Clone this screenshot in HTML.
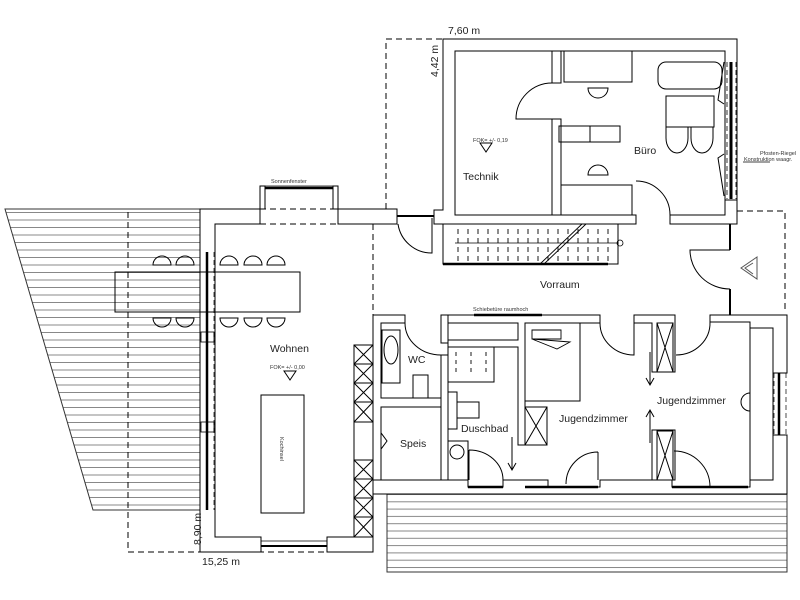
<!DOCTYPE html>
<html><head><meta charset="utf-8"><style>
html,body{margin:0;padding:0;background:#fff;}
svg{display:block;font-family:"Liberation Sans",sans-serif;}
</style></head><body>
<svg width="800" height="600" viewBox="0 0 800 600" xmlns="http://www.w3.org/2000/svg">
<defs>
<pattern id="deck" width="10" height="7.5" patternUnits="userSpaceOnUse" y="2">
<line x1="0" y1="0.5" x2="10" y2="0.5" stroke="#888" stroke-width="1"/>
</pattern>
<pattern id="deck2" width="10" height="7.3" patternUnits="userSpaceOnUse" y="494">
<line x1="0" y1="0.5" x2="10" y2="0.5" stroke="#888" stroke-width="1"/>
</pattern>
</defs>
<g fill="none" stroke="#000" stroke-width="1">
<polygon points="5,209 200,209 200,510 93,510" fill="url(#deck)" stroke="#333"/>
<rect x="387" y="494" width="400" height="78" fill="url(#deck2)" stroke="#333"/>
<g stroke-dasharray="6,4">
<polyline points="128,212 128,552 327,552"/>
<polyline points="386,209 386,39 443,39"/>
<line x1="373" y1="224" x2="373" y2="315"/>
<polyline points="737,211 785,211 785,312"/>
</g>
<path d="M434,224 L434,210 L443,210 L443,39 L737,39 L737,200 L725,200 L725,51 L455,51 L455,215 L636,215 L636,224 Z" fill="#fff"/>
<path d="M670,215 L725,215 L725,200 L737,200 L737,224 L670,224 Z" fill="#fff"/>
<path d="M552,51 L561,51 L561,83 L552,83 Z" fill="#fff"/>
<path d="M552,119 L561,119 L561,215 L552,215 Z" fill="#fff"/>
<line x1="731" y1="62" x2="731" y2="199" stroke-width="3"/>
<line x1="727" y1="62" x2="727" y2="199" stroke-dasharray="5,3" stroke-width="0.8"/>
<line x1="736" y1="62" x2="736" y2="199" stroke-dasharray="5,3" stroke-width="0.8"/>
<path d="M552,83 A36,36 0 0 0 516,119 L552,119"/>
<path d="M636,181 A34,34 0 0 1 670,215"/>
<rect x="564" y="51" width="68" height="31"/>
<path d="M588,88 A10,10 0 0 0 608,88 Z"/>
<rect x="559" y="126" width="31" height="16"/><rect x="590" y="126" width="30" height="16"/>
<path d="M588,175 A10,10 0 0 1 608,175 Z"/>
<rect x="561" y="185" width="71" height="30"/>
<rect x="658" y="62" width="64" height="27" rx="8"/>
<rect x="666" y="96" width="48" height="31"/>
<path d="M666,127 L688,127 L688,138 A11,15 0 0 1 666,138 Z"/>
<path d="M691,127 L713,127 L713,138 A11,15 0 0 1 691,138 Z"/>
<path d="M724,62 L718,100 L724,104"/>
<path d="M724,154 L718,158 L724,196"/>
<path d="M200,209 L260,209 L260,224 L215,224 L215,537 L261,537 L261,552 L200,552 Z" fill="#fff"/>
<path d="M338,209 L397,209 L397,224 L338,224 Z" fill="#fff"/>
<path d="M327,537 L354,537 L354,345 L373,345 L373,552 L327,552 Z" fill="#fff"/>
<line x1="260" y1="209" x2="338" y2="209" stroke-dasharray="6,4"/>
<line x1="260" y1="224" x2="338" y2="224" stroke-dasharray="6,4"/>
<rect x="260" y="186" width="5" height="23"/><rect x="333" y="186" width="5" height="23"/>
<line x1="265" y1="188" x2="333" y2="188" stroke-width="2.5"/>
<line x1="265" y1="186" x2="333" y2="186" stroke-width="0.8"/>
<line x1="397" y1="216" x2="434" y2="216" stroke-width="2"/>
<path d="M432,218 L432,253 A34,34 0 0 1 398,224"/>
<line x1="261" y1="546" x2="327" y2="546" stroke-width="2"/>
<line x1="261" y1="541" x2="327" y2="541" stroke-width="0.7"/>
<line x1="207" y1="252" x2="207" y2="510" stroke-width="2.5"/>
<line x1="214" y1="252" x2="214" y2="510" stroke-dasharray="5,3" stroke-width="0.7"/>
<rect x="201" y="332" width="13" height="10" stroke-width="0.8"/>
<rect x="201" y="422" width="13" height="10" stroke-width="0.8"/>
<rect x="115" y="272" width="185" height="40" fill="none"/>
<g>
<path d="M153,265 A9,9 0 0 1 171,265 Z"/><path d="M176,265 A9,9 0 0 1 194,265 Z"/>
<path d="M220,265 A9,9 0 0 1 238,265 Z"/><path d="M244,265 A9,9 0 0 1 262,265 Z"/><path d="M267,265 A9,9 0 0 1 285,265 Z"/>
<path d="M153,318 A9,9 0 0 0 171,318 Z"/><path d="M176,318 A9,9 0 0 0 194,318 Z"/>
<path d="M220,318 A9,9 0 0 0 238,318 Z"/><path d="M244,318 A9,9 0 0 0 262,318 Z"/><path d="M267,318 A9,9 0 0 0 285,318 Z"/>
</g>
<rect x="261" y="395" width="43" height="118"/>
<path d="M284,371 L296,371 L290,380 Z"/>
<g stroke-width="1">
<rect x="354" y="345" width="19" height="77"/>
<path d="M354,345 L373,364 M373,345 L354,364 M354,364 L373,383 M373,364 L354,383 M354,383 L373,402 M373,383 L354,402 M354,402 L373,422 M373,402 L354,422 M354,364 L373,364 M354,383 L373,383 M354,402 L373,402"/>
<rect x="354" y="460" width="19" height="77"/>
<path d="M354,460 L373,479 M373,460 L354,479 M354,479 L373,498 M373,479 L354,498 M354,498 L373,517 M373,498 L354,517 M354,517 L373,537 M373,517 L354,537 M354,479 L373,479 M354,498 L373,498 M354,517 L373,517"/>
</g>
<path d="M373,422 L381,422 M373,460 L381,460 M373,422 L387,441 L373,460"/>
<rect x="443" y="224" width="175" height="40" fill="#fff" stroke-width="1"/>
<line x1="443" y1="264" x2="608" y2="264" stroke-width="2.5"/>
<line x1="455" y1="243" x2="618" y2="243" stroke-width="0.8"/>
<g stroke-width="0.9">
<path d="M458,229v5M468,229v5M478,229v5M488,229v5M498,229v5M508,229v5M518,229v5M528,229v5M538,229v5M548,229v5M558,229v5M568,229v5M578,229v5M588,229v5M598,229v5M608,229v5"/>
<path d="M458,238v5M468,238v5M478,238v5M488,238v5M498,238v5M508,238v5M518,238v5M528,238v5M538,238v5M548,238v5M558,238v5M568,238v5M578,238v5M588,238v5M598,238v5M608,238v5"/>
<path d="M458,247v5M468,247v5M478,247v5M488,247v5M498,247v5M508,247v5M518,247v5M528,247v5M538,247v5M548,247v5M558,247v5M568,247v5M578,247v5M588,247v5M598,247v5M608,247v5"/>
<path d="M458,256v5M468,256v5M478,256v5M488,256v5M498,256v5M508,256v5M518,256v5M528,256v5M538,256v5M548,256v5M558,256v5M568,256v5M578,256v5M588,256v5M598,256v5M608,256v5"/>
<line x1="540" y1="264" x2="582" y2="224"/><line x1="544" y1="264" x2="586" y2="224"/>
</g>
<circle cx="620" cy="243" r="3" stroke-width="0.8"/>
<line x1="730" y1="224" x2="730" y2="250" stroke-width="2"/>
<line x1="730" y1="289" x2="730" y2="315" stroke-width="2"/>
<path d="M730,250 L690,250 A40,39 0 0 0 730,289" stroke-width="1"/>
<path d="M757,257 L741,268 L757,279 Z M753,263 L745,268 L753,274" stroke="#555"/>
<path d="M373,315 L405,315 L405,323 L381,323 L381,398 L441,398 L441,407 L381,407 L381,480 L373,480 Z" fill="#fff"/>
<path d="M441,315 L448,315 L448,343 L441,343 Z" fill="#fff"/>
<path d="M441,355 L448,355 L448,480 L441,480 Z" fill="#fff"/>
<path d="M448,315 L600,315 L600,323 L525,323 L525,445 L518,445 L518,347 L448,347 L448,340 L518,340 L518,323 L448,323 Z" fill="#fff"/>
<path d="M634,315 L675,315 L675,372 L652,372 L652,323 L634,323 Z" fill="#fff"/>
<path d="M710,315 L787,315 L787,373 L773,373 L773,328 L750,328 L750,322 L710,322 Z" fill="#fff"/>
<path d="M773,435 L787,435 L787,494 L373,494 L373,480 L468,480 L468,487 L503,487 L503,480 L548,480 L548,487 L600,487 L600,480 L672,480 L672,487 L750,487 L750,480 L773,480 Z" fill="#fff"/>
<path d="M652,430 L675,430 L675,480 L652,480 Z" fill="#fff"/>
<rect x="750" y="328" width="23" height="152"/>
<line x1="468" y1="487" x2="503" y2="487" stroke-width="2.5"/>
<line x1="525" y1="487" x2="598" y2="487" stroke-width="2.5"/>
<line x1="672" y1="487" x2="748" y2="487" stroke-width="2.5"/>
<line x1="779" y1="373" x2="779" y2="435" stroke-width="2.5"/>
<line x1="774" y1="373" x2="774" y2="435" stroke-dasharray="5,3" stroke-width="0.7"/>
<line x1="786" y1="373" x2="786" y2="435" stroke-dasharray="5,3" stroke-width="0.7"/>
<path d="M405,323 A36,32 0 0 0 441,355" stroke-width="1"/>
<path d="M469,450 L469,480 M469,450 A34,30 0 0 1 503,480" stroke-width="1"/>
<path d="M598,452 L598,480 M598,452 A32,32 0 0 0 566,484" stroke-width="1"/>
<path d="M600,323 A34,32 0 0 0 634,355 L634,323" stroke-width="1"/>
<path d="M710,322 A34,32 0 0 1 676,355" stroke-width="1"/>
<path d="M674,451 A36,36 0 0 1 710,487" stroke-width="1"/>
<line x1="474" y1="315" x2="542" y2="315" stroke-width="2.5"/>
<rect x="382" y="330" width="18" height="53"/>
<ellipse cx="391" cy="350" rx="7" ry="14"/>
<rect x="413" y="375" width="15" height="23"/>
<rect x="448" y="347" width="46" height="35"/>
<path d="M456,352v4M456,360v4M456,368v4M471,352v4M471,360v4M471,368v4M486,352v4M486,360v4M486,368v4" stroke-width="0.9"/>
<rect x="448" y="392" width="9" height="37"/><rect x="457" y="402" width="22" height="16"/>
<rect x="448" y="441" width="20" height="39"/><circle cx="457" cy="452" r="7"/>
<path d="M512,437 L512,470 M508,463 L512,470 L516,463" stroke-width="1"/>
<rect x="525" y="323" width="55" height="78"/>
<path d="M532,330 L561,330 L561,339 L532,339 Z M532,339 L570,342 L557,349 Z" stroke-width="0.9"/>
<rect x="525" y="407" width="22" height="38"/><path d="M525,407 L547,445 M547,407 L525,445"/>
<rect x="657" y="323" width="16" height="49"/><path d="M657,323 L673,372 M673,323 L657,372"/>
<rect x="657" y="431" width="16" height="49"/><path d="M657,431 L673,480 M673,431 L657,480"/>
<path d="M650,352 L650,385 M646,378 L650,385 L654,378" stroke-width="1"/>
<path d="M650,443 L650,410 M646,417 L650,410 L654,417" stroke-width="1"/>
<path d="M750,393 A9,9 0 0 0 750,411 Z"/>
<line x1="743" y1="162" x2="770" y2="162" stroke-width="0.8"/>
<path d="M480,143 L492,143 L486,152 Z"/>
</g>
<g font-size="10.5" fill="#222">
<text x="463" y="180">Technik</text>
<text x="634" y="154">Büro</text>
<text x="270" y="352">Wohnen</text>
<text x="540" y="288">Vorraum</text>
<text x="408" y="363">WC</text>
<text x="400" y="447">Speis</text>
<text x="461" y="432">Duschbad</text>
<text x="559" y="422">Jugendzimmer</text>
<text x="657" y="404">Jugendzimmer</text>
<text x="448" y="34">7,60 m</text>
<text x="202" y="565">15,25 m</text>
<text transform="translate(438,77) rotate(-90)">4,42 m</text>
<text transform="translate(201,545) rotate(-90)">8,90 m</text>
</g>
<g font-size="5.5" fill="#333">
<text x="271" y="183">Sonnenfenster</text>
<text x="473" y="142">FOK= +/- 0,19</text>
<text x="270" y="369">FOK= +/- 0,00</text>
<text x="473" y="311">Schiebetüre raumhoch</text>
<text x="760" y="155">Pfosten-Riegel</text>
<text x="744" y="161">Konstruktion waagr.</text>
<text transform="translate(280,437) rotate(90)">Kochinsel</text>
</g>
</svg>
</body></html>
